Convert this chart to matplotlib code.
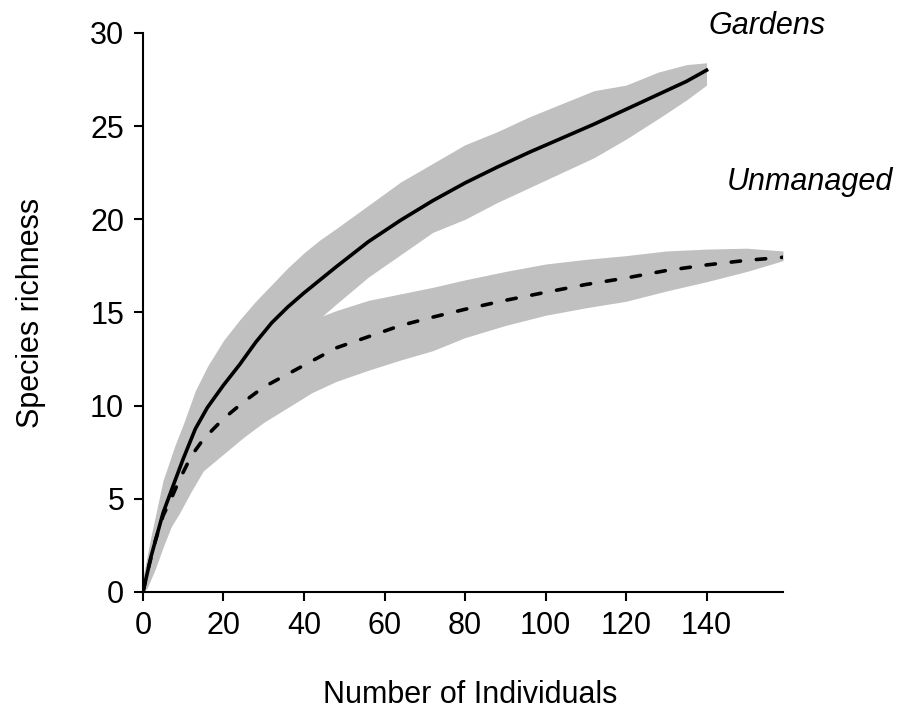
#!/usr/bin/env python3
"""Rarefaction curves: gardens vs unmanaged sites, with confidence bands."""
import matplotlib
matplotlib.use("Agg")
import matplotlib.pyplot as plt

# Gardens: individuals sampled, mean richness, band limits
g_x = [0, 2, 5, 8, 10, 13, 16, 20, 24, 28, 32, 36, 40, 44, 48, 56, 64,
       72, 80, 88, 96, 104, 112, 120, 128, 135, 140]
g_mean = [0, 1.9, 4.25, 6.0, 7.15, 8.75, 9.9, 11.1, 12.2, 13.4, 14.45, 15.3,
          16.05, 16.75, 17.45, 18.8, 19.95, 21.0, 21.95, 22.8, 23.6, 24.35,
          25.1, 25.9, 26.7, 27.4, 28.0]
g_hi = [0.8, 3.0, 6.0, 7.9, 9.0, 10.8, 12.1, 13.5, 14.6, 15.6, 16.5, 17.4,
        18.2, 18.9, 19.5, 20.75, 22.0, 23.0, 24.0, 24.7, 25.5, 26.2, 26.9,
        27.2, 27.9, 28.3, 28.4]
g_lo = [0, 1.0, 2.6, 4.0, 5.2, 6.7, 7.9, 9.1, 10.2, 11.4, 12.4, 13.2,
        14.0, 14.7, 15.45, 16.9, 18.1, 19.3, 20.0, 20.9, 21.7, 22.5, 23.3,
        24.3, 25.4, 26.4, 27.2]

# Unmanaged
u_x = [0, 1, 3, 5, 7, 9, 12, 15, 20, 25, 30, 36, 42, 48, 56, 64, 72, 80, 90,
       100, 110, 120, 130, 140, 150, 159]
u_mean = [0, 1.0, 2.7, 4.1, 5.0, 6.0, 7.3, 8.2, 9.3, 10.2, 11.0, 11.7, 12.4,
          13.1, 13.7, 14.3, 14.75, 15.17, 15.65, 16.08, 16.5, 16.85, 17.25,
          17.55, 17.8, 17.96]
u_hi = [0.3, 1.6, 3.8, 5.5, 6.8, 7.8, 9.3, 10.4, 11.6, 12.4, 13.2, 13.9, 14.6,
        15.1, 15.65, 16.0, 16.35, 16.75, 17.2, 17.6, 17.85, 18.05, 18.3, 18.4,
        18.45, 18.3]
u_lo = [0, 0.2, 1.2, 2.4, 3.5, 4.2, 5.4, 6.5, 7.4, 8.3, 9.1, 9.9, 10.7, 11.3,
        11.9, 12.45, 12.95, 13.65, 14.3, 14.85, 15.25, 15.6, 16.15, 16.65,
        17.2, 17.78]

x_ticks = [0, 20, 40, 60, 80, 100, 120, 140]
y_ticks = [0, 5, 10, 15, 20, 25, 30]

plt.rcParams["font.family"] = ["Liberation Sans", "DejaVu Sans"]

fig = plt.figure(figsize=(9.05, 7.18), dpi=100)
ax = fig.add_axes([0.158, 0.1755, 0.7072, 0.7786])

band = "#c0c0c0"
ax.fill_between(g_x, g_lo, g_hi, color=band, linewidth=0)
ax.fill_between(u_x, u_lo, u_hi, color=band, linewidth=0)
ax.plot(g_x, g_mean, color="black", linewidth=2.6)
ax.plot(u_x, u_mean, color="black", linewidth=2.6, linestyle=(0, (2.6, 4.4)),
        dash_capstyle="round")

ax.set_xlim(0, 159)
ax.set_ylim(0, 30)
ax.set_xticks(x_ticks)
ax.set_yticks(y_ticks)
for side in ("top", "right"):
    ax.spines[side].set_visible(False)
for side in ("left", "bottom"):
    ax.spines[side].set_linewidth(1.5)
ax.tick_params(direction="out", length=6.5, width=1.5, labelsize=22, pad=7)

ax.set_xlabel("Number of Individuals", fontsize=22, va="center")
ax.xaxis.set_label_coords(0.512, -0.184)
ax.set_ylabel("Species richness", fontsize=22, va="center")
ax.yaxis.set_label_coords(-0.175, 0.5)

ax.text(155, 30.4, "Gardens", fontsize=22, style="italic", ha="center",
        va="center", clip_on=False)
ax.text(165.7, 22.0, "Unmanaged", fontsize=22, style="italic", ha="center",
        va="center", clip_on=False)

fig.savefig("out.png", dpi=100)
plt.close(fig)
